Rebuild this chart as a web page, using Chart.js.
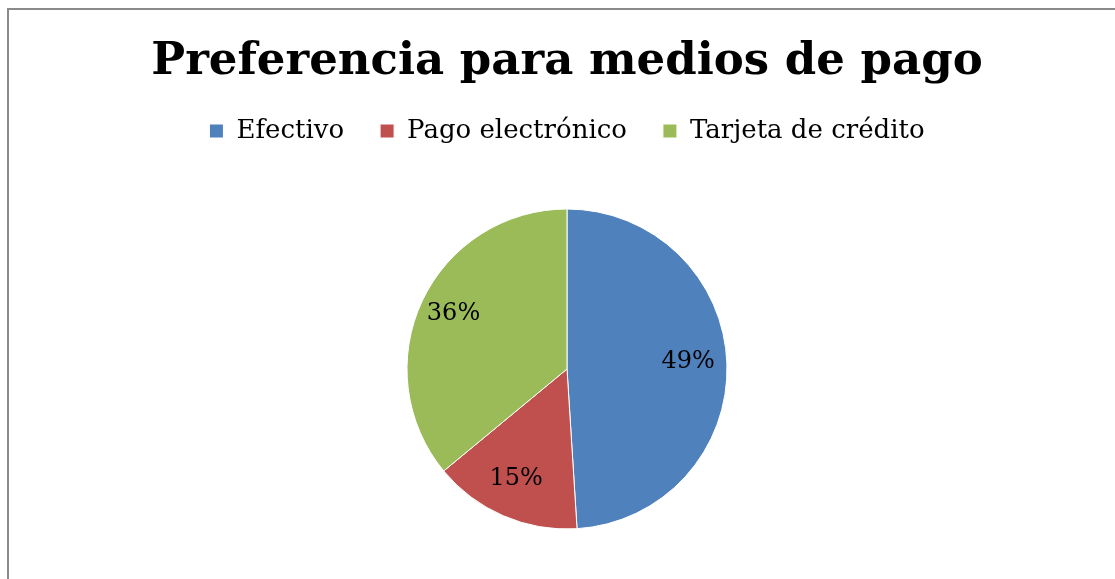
<!DOCTYPE html>
<html>
<head>
<meta charset="utf-8">
<script src="https://cdn.jsdelivr.net/npm/chart.js@4"></script>
<style>
  html, body { margin: 0; padding: 0; background: #fff; }
  #wrap { position: absolute; left: 0; top: 0; width: 1115px; height: 579px; overflow: hidden; }
  #frame { position: absolute; left: 7px; top: 8px; width: 1200px; height: 700px;
           border-left: 2px solid #8a8a8a; border-top: 2px solid #8a8a8a; }
  canvas { position: absolute; left: 0; top: 0; }
</style>
</head>
<body>
<div id="wrap">
  <div id="frame"></div>
  <canvas id="chart-area" width="1115" height="620"></canvas>
</div>
<script>
var categories = ["Efectivo", "Pago electrónico", "Tarjeta de crédito"];
var percentages = [49, 15, 36];
var sliceColors = ["#4F81BD", "#C0504D", "#9BBB59"];

var serif = "'DejaVu Serif', 'Liberation Serif', serif";

// labels inside the slices, like the office chart
var sliceLabels = {
    id: 'sliceLabels',
    afterDatasetsDraw: function(chart) {
        var ctx = chart.ctx;
        var meta = chart.getDatasetMeta(0);
        ctx.save();
        ctx.font = "24px " + serif;
        ctx.fillStyle = "#000";
        ctx.textAlign = "center";
        ctx.textBaseline = "middle";
        meta.data.forEach(function(arc, i) {
            var p = arc.getProps(['x', 'y', 'startAngle', 'endAngle', 'outerRadius'], true);
            var mid = (p.startAngle + p.endAngle) / 2;
            var r = p.outerRadius * 0.77;
            ctx.fillText(percentages[i] + "%", p.x + Math.cos(mid) * r - 2, p.y + Math.sin(mid) * r - 3);
        });
        ctx.restore();
    }
};

var config = {
    type: 'pie',
    data: {
        labels: categories,
        datasets: [{
            data: percentages,
            backgroundColor: sliceColors,
            borderColor: "#ffffff",
            borderWidth: 1,
            radius: 160
        }]
    },
    options: {
        responsive: false,
        animation: false,
        layout: { padding: { left: 19, right: 0, top: 0, bottom: 36 } },
        plugins: {
            title: {
                display: true,
                text: "Preferencia para medios de pago",
                color: "#000",
                font: { family: serif, size: 45, weight: 'bold' },
                padding: { top: 35, bottom: -7 }
            },
            legend: {
                position: 'top',
                labels: {
                    color: "#000",
                    font: { family: serif, size: 26 },
                    boxWidth: 14,
                    boxHeight: 14,
                    padding: 36
                }
            },
            tooltip: { enabled: false }
        }
    },
    plugins: [sliceLabels]
};

var ctx = document.getElementById("chart-area").getContext("2d");
var myPie = new Chart(ctx, config);
</script>
</body>
</html>
